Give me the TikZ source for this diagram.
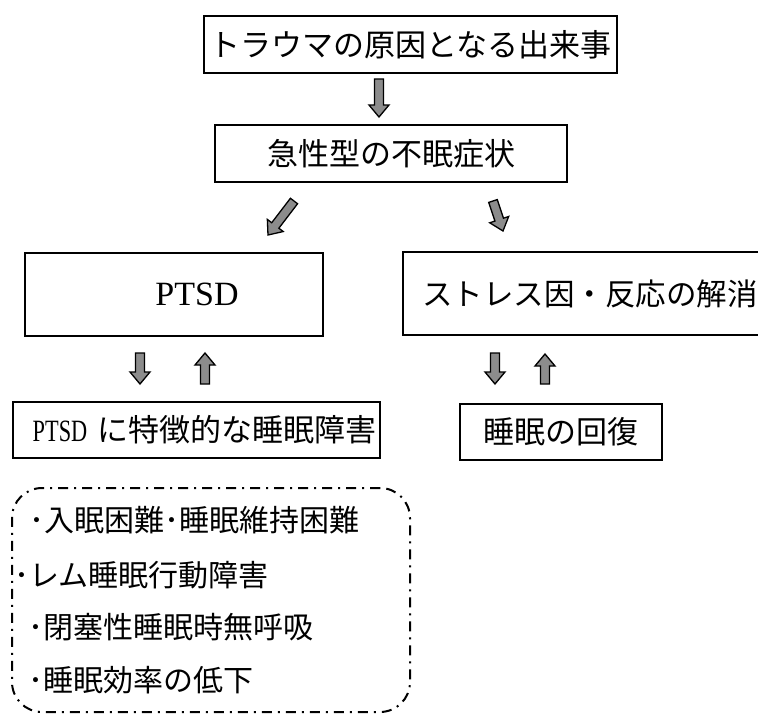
\documentclass[tikz,border=0pt]{standalone}
\usepackage{fontspec}
\setmainfont{Liberation Serif}
\newfontfamily\jpfont{Noto Sans CJK JP}
\usepackage{graphicx}
\usetikzlibrary{calc}

% thick grey block arrow from #1 to #2 (named coordinates)
\newcommand{\blockarrow}[2]{%
  \coordinate (ah) at ($(#2)!12pt!(#1)$);
  \filldraw[blockarr] ($(#1)!4.5pt!90:(#2)$) -- ($(ah)!4.5pt!90:(#2)$)
    -- ($(ah)!10pt!90:(#2)$) -- (#2) -- ($(ah)!10pt!-90:(#2)$)
    -- ($(ah)!4.5pt!-90:(#2)$) -- ($(#1)!4.5pt!-90:(#2)$) -- cycle;}

\begin{document}
\begin{tikzpicture}[x=1pt,y=-1pt,
      box/.style={draw,line width=2pt,inner sep=0pt,font=\jpfont\fontsize{31pt}{36pt}\selectfont},
      listbox/.style={draw,line width=2pt,rounded corners=30pt,dash pattern=on 10pt off 6pt on 2pt off 6pt},
      item/.style={anchor=west,inner sep=0pt,font=\jpfont\fontsize{30pt}{36pt}\selectfont},
      blockarr/.style={draw=black,line width=1.3pt,fill=black!45,line join=miter}]
      \useasboundingbox (0,0) rectangle (758,717);
      \node[box,minimum width=413pt,minimum height=57pt] (trauma) at (410.5,44.5) {トラウマの原因となる出来事};
      \node[box,minimum width=352pt,minimum height=57pt] (acute) at (391,153.5) {急性型の不眠症状};
      \node[box,minimum width=298pt,minimum height=83pt,font=\rmfamily\fontsize{34pt}{40pt}\selectfont] (ptsd) at (174,294.5) {\hspace*{46pt}PTSD};
      \node[box,minimum width=367pt,minimum height=83pt,font=\jpfont\fontsize{30.5pt}{36pt}\selectfont] (stress) at (586.5,293.5) {\hspace*{7pt}ストレス因・反応の解消};
      \node[box,minimum width=367pt,minimum height=56pt] (ptsdsleep) at (196.5,430) {\hspace*{16pt}{\rmfamily\scalebox{0.72}[1]{PTSD}}\hspace{10pt}に特徴的な睡眠障害};
      \node[box,minimum width=202pt,minimum height=56pt] (recover) at (561,432) {睡眠の回復};
      % symptom list
      \node[listbox,minimum width=398pt,minimum height=224pt] (list) at (211,600) {};
      \node[item] (onset) at (29,520) {･入眠困難･睡眠維持困難};
      \node[item] (rem) at (14,575) {･レム睡眠行動障害};
      \node[item] (apnea) at (28,627) {･閉塞性睡眠時無呼吸};
      \node[item] (effic) at (28,680) {･睡眠効率の低下};
      % arrow ends
      \coordinate (a1s) at ([xshift=-31.5pt,yshift=-5pt]trauma.south);
      \coordinate (a1e) at ([xshift=-12pt,yshift=7pt]acute.north);
      \coordinate (a2s) at ([xshift=-97pt,yshift=-18pt]acute.south);
      \coordinate (a2e) at ([xshift=94pt,yshift=17pt]ptsd.north);
      \coordinate (a3s) at ([xshift=102pt,yshift=-18pt]acute.south);
      \coordinate (a3e) at ([xshift=-83.5pt,yshift=20pt]stress.north);
      \coordinate (a4s) at ([xshift=-34pt,yshift=-16pt]ptsd.south);
      \coordinate (a4e) at ([xshift=-56.5pt,yshift=17pt]ptsdsleep.north);
      \coordinate (a5s) at ([xshift=8.5pt,yshift=17pt]ptsdsleep.north);
      \coordinate (a5e) at ([xshift=31pt,yshift=-16pt]ptsd.south);
      \coordinate (a6s) at ([xshift=-91.5pt,yshift=-17pt]stress.south);
      \coordinate (a6e) at ([xshift=-66pt,yshift=19pt]recover.north);
      \coordinate (a7s) at ([xshift=-16pt,yshift=19pt]recover.north);
      \coordinate (a7e) at ([xshift=-41.5pt,yshift=-18pt]stress.south);
      \blockarrow{a1s}{a1e}
      \blockarrow{a2s}{a2e}
      \blockarrow{a3s}{a3e}
      \blockarrow{a4s}{a4e}
      \blockarrow{a5s}{a5e}
      \blockarrow{a6s}{a6e}
      \blockarrow{a7s}{a7e}
    \end{tikzpicture}
\end{document}
